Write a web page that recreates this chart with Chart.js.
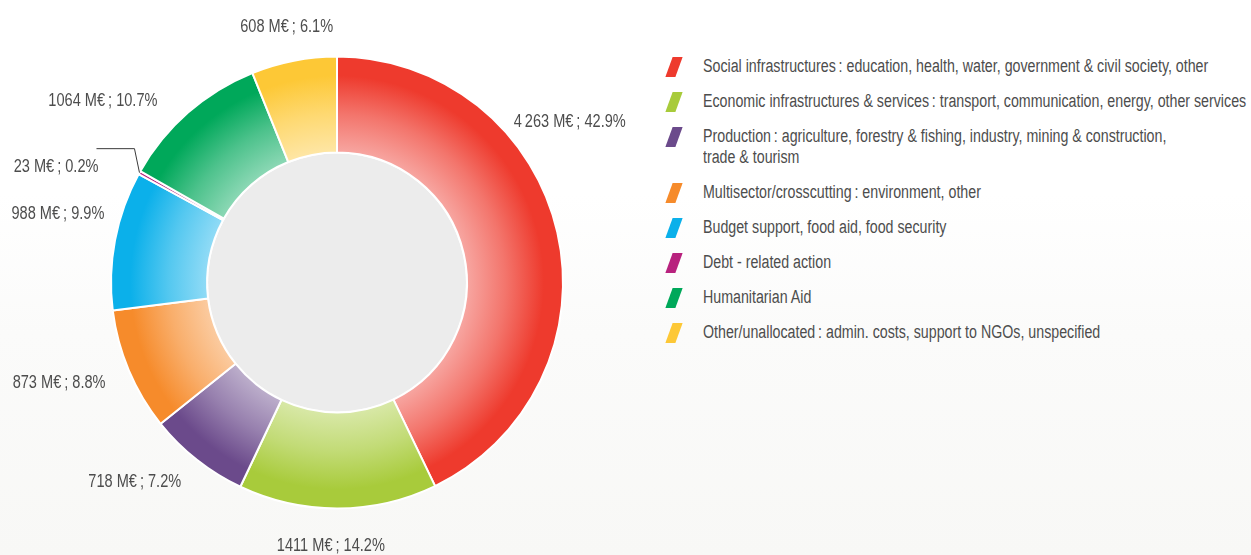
<!DOCTYPE html>
<html>
<head>
<meta charset="utf-8">
<script src="https://cdn.jsdelivr.net/npm/chart.js@4.4.0/dist/chart.umd.min.js"></script>
<style>
  html, body { margin: 0; padding: 0; }
  body {
    width: 1251px; height: 555px; overflow: hidden; position: relative;
    background: linear-gradient(180deg, #ffffff 0%, #ffffff 35%, #fbfbfa 60%, #f8f8f6 100%);
    font-family: "Liberation Sans", Arial, sans-serif;
  }
  #pie { position: absolute; left: 0; top: 0; }
  #legend { position: absolute; left: 665px; top: 56px; margin: 0; padding: 0; list-style: none; }
  #legend li { position: relative; padding-left: 38px; margin-bottom: 14px; font-size: 18px; line-height: 21px; color: #4d4d4d; white-space: pre; }
  #legend li i { position: absolute; left: 4px; top: 1px; width: 10px; height: 20px; transform: skewX(-20deg); }
  #legend li b { font-weight: normal; display: inline-block; transform: scaleX(0.79); transform-origin: 0 0; }
</style>
</head>
<body>
<canvas id="pie" width="660" height="555"></canvas>
<ul id="legend"></ul>
<script>
// sectors, clockwise from the top
var sectors = [
    "Social infrastructures\u2009: education, health, water, government & civil society, other",
    "Economic infrastructures & services\u2009: transport, communication, energy, other services",
    "Production\u2009: agriculture, forestry & fishing, industry, mining & construction,\ntrade & tourism",
    "Multisector/crosscutting\u2009: environment, other",
    "Budget support, food aid, food security",
    "Debt - related action",
    "Humanitarian Aid",
    "Other/unallocated\u2009: admin. costs, support to NGOs, unspecified"
];
var amounts = [4263, 1411, 718, 873, 988, 23, 1064, 608];          // M€
var amountText = ["4\u2009263", "1411", "718", "873", "988", "23", "1064", "608"];
var colors = ["#ee3a2d", "#a8cb3b", "#6b4a8b", "#f68b2b", "#0bb0ea", "#b8227e", "#00a85a", "#fdc836"];

var total = amounts.reduce(function (a, b) { return a + b; }, 0);
var CUT = 0.575;
var SQUEEZE = 0.81;   // stands in for the condensed face of the original

// legend
var ul = document.getElementById("legend");
sectors.forEach(function (s, i) {
    var li = document.createElement("li");
    var m = document.createElement("i");
    m.style.background = colors[i];
    var t = document.createElement("b");
    t.textContent = s;
    li.appendChild(m);
    li.appendChild(t);
    ul.appendChild(li);
});

function lighten(hex, k) {
    var n = parseInt(hex.slice(1), 16);
    var r = n >> 16, g = (n >> 8) & 255, b = n & 255;
    r = Math.round(r + (255 - r) * k);
    g = Math.round(g + (255 - g) * k);
    b = Math.round(b + (255 - b) * k);
    return "rgb(" + r + "," + g + "," + b + ")";
}

function sliceFill(c) {
    var base = colors[c.dataIndex];
    var area = c.chart.chartArea;
    if (!area) return base;
    var cx = (area.left + area.right) / 2, cy = (area.top + area.bottom) / 2;
    var outer = (Math.min(area.right - area.left, area.bottom - area.top) - 2) / 2;
    var inner = outer * CUT;
    var g = c.chart.ctx.createRadialGradient(cx, cy, inner, cx, cy, outer);
    g.addColorStop(0, lighten(base, 0.55));
    g.addColorStop(0.4, lighten(base, 0.3));
    g.addColorStop(0.8, base);
    g.addColorStop(1, base);
    return g;
}

// grey disc in the hole
var hole = {
    id: "hole",
    beforeDatasetsDraw: function (chart) {
        var arc = chart.getDatasetMeta(0).data[0];
        if (!arc) return;
        var ctx = chart.ctx;
        ctx.save();
        ctx.beginPath();
        ctx.arc(arc.x, arc.y, arc.innerRadius - 1, 0, Math.PI * 2);
        ctx.fillStyle = "#ececec";
        ctx.fill();
        ctx.restore();
    }
};

function squeezedText(ctx, txt, x, y, align) {
    ctx.save();
    ctx.translate(x, y);
    ctx.scale(SQUEEZE, 1);
    ctx.textAlign = align;
    ctx.fillText(txt, 0, 0);
    ctx.restore();
}

// value labels around the ring
var nudge = [[-65, -105], [-7, 16], [-2, 5], [-3, 4], [11, -22], [0, 0], [-16, 5], [-3, -12]];
var valueLabels = {
    id: "valueLabels",
    afterDatasetsDraw: function (chart) {
        var ctx = chart.ctx;
        ctx.save();
        ctx.font = '18px "Liberation Sans", Arial, sans-serif';
        ctx.fillStyle = "#4d4d4d";
        ctx.textBaseline = "middle";
        chart.getDatasetMeta(0).data.forEach(function (arc, i) {
            var p = arc.getProps(["x", "y", "startAngle", "endAngle", "outerRadius"], true);
            var mid = (p.startAngle + p.endAngle) / 2;
            var txt = amountText[i] + " M€\u2009; " + (amounts[i] / total * 100).toFixed(1) + "%";
            if (amounts[i] / total < 0.01) {
                // small slice: leader line
                var ax = p.x + Math.cos(mid) * p.outerRadius, ay = p.y + Math.sin(mid) * p.outerRadius;
                var ex = ax - 5, ey = ay - 24;
                ctx.strokeStyle = "#3a3a3a";
                ctx.lineWidth = 1;
                ctx.beginPath();
                ctx.moveTo(ax, ay);
                ctx.lineTo(ex, ey);
                ctx.lineTo(ex - 38, ey);
                ctx.stroke();
                squeezedText(ctx, txt, ex - 36, ey + 18, "right");
                return;
            }
            var r = p.outerRadius + 22;
            var x = p.x + Math.cos(mid) * r, y = p.y + Math.sin(mid) * r;
            var c = Math.cos(mid);
            var align = c > 0.3 ? "left" : (c < -0.3 ? "right" : "center");
            squeezedText(ctx, txt, x + nudge[i][0], y + nudge[i][1], align);
        });
        ctx.restore();
    }
};

new Chart(document.getElementById("pie"), {
    type: "doughnut",
    data: {
        labels: sectors,
        datasets: [{
            data: amounts,
            backgroundColor: sliceFill,
            borderColor: "#ffffff",
            borderWidth: 2,
            hoverOffset: 0
        }]
    },
    options: {
        responsive: false,
        animation: false,
        cutout: (CUT * 100) + "%",
        layout: { padding: { left: 110, right: 96, top: 55, bottom: 45 } },
        plugins: {
            legend: { display: false },
            tooltip: { enabled: false }
        }
    },
    plugins: [hole, valueLabels]
});
</script>
</body>
</html>
